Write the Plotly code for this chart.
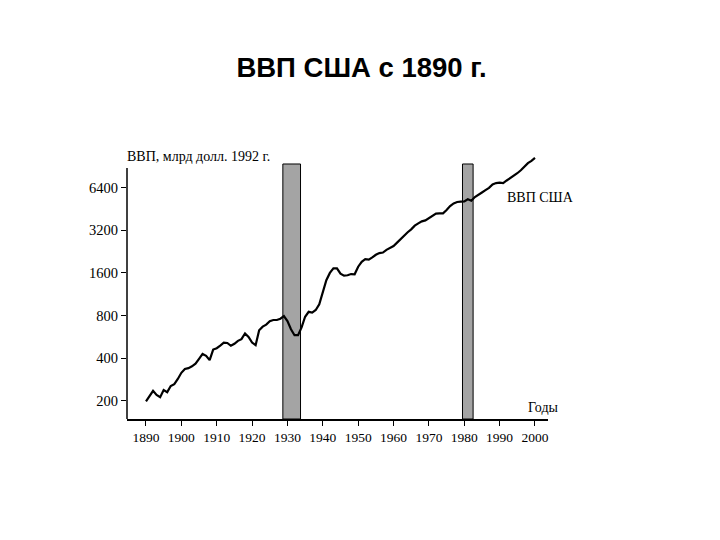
import plotly.graph_objects as go

years = list(range(1890, 2001))
gdp = [198, 215, 235, 220, 212, 238, 230, 254, 262, 285,
       315, 335, 340, 350, 365, 395, 428, 415, 387, 460,
       470, 490, 514, 512, 489, 505, 530, 545, 598, 565,
       515, 494, 630, 668, 690, 730, 744, 744, 760, 793,
       730, 640, 581, 581, 660, 784, 850, 840, 875, 960,
       1150, 1420, 1600, 1725, 1725, 1580, 1530, 1540, 1570, 1565,
       1770, 1919, 2001, 1985, 2060, 2150, 2210, 2230, 2330, 2420,
       2480, 2620, 2780, 2950, 3100, 3250, 3450, 3580, 3700, 3760,
       3920, 4080, 4200, 4210, 4220, 4450, 4750, 4960, 5070, 5110,
       5120, 5300, 5180, 5500, 5750, 5920, 6150, 6380, 6750, 6900,
       6950, 6900, 7200, 7480, 7750, 8100, 8500, 9000, 9550, 9900,
       10400]

shade_start = [1928.7, 1979.5]
shade_end = [1933.7, 1982.5]

ytick_vals = [200, 400, 800, 1600, 3200, 6400]
ytick_text = ["200", "400", "800", "1600", "3200", "6400"]
xtick_vals = list(range(1890, 2001, 10))

serif = "Liberation Serif, Times New Roman, serif"

fig = go.Figure()
fig.add_trace(go.Scatter(x=years, y=gdp, mode="lines",
                         line=dict(color="black", width=2.2), showlegend=False))

shapes = []
for s, e in zip(shade_start, shade_end):
    shapes.append(dict(type="rect", xref="x", yref="paper", x0=s, x1=e,
                       y0=0, y1=0.948, fillcolor="#a4a4a4",
                       line=dict(color="black", width=1), layer="below"))
shapes.append(dict(type="line", xref="paper", yref="paper", x0=0, x1=0,
                   y0=0, y1=0.933, line=dict(color="black", width=1.5)))

fig.update_layout(
    width=720, height=540,
    margin=dict(l=127, r=172, t=150, b=121),
    paper_bgcolor="white", plot_bgcolor="white",
    title=dict(text="<b>ВВП США с 1890 г.</b>", x=361.5 / 720, xanchor="center",
               y=1 - 67.5 / 540, yanchor="middle", xref="container", yref="container",
               font=dict(family="Liberation Sans, Arial, sans-serif", size=27.5, color="black")),
    shapes=shapes,
    annotations=[
        dict(text="ВВП, млрд долл. 1992 г.", xref="paper", yref="paper",
             x=-0.005, y=(419 - 156) / 269, xanchor="left", yanchor="middle",
             showarrow=False, font=dict(family=serif, size=14, color="black")),
        dict(text="ВВП США", xref="paper", yref="paper",
             x=(505 - 127) / 421, y=(419 - 197) / 269, xanchor="left", yanchor="middle",
             showarrow=False, font=dict(family=serif, size=14, color="black")),
        dict(text="Годы", xref="paper", yref="paper",
             x=(526 - 127) / 421, y=(419 - 407) / 269, xanchor="left", yanchor="middle",
             showarrow=False, font=dict(family=serif, size=14, color="black")),
    ],
)
fig.update_xaxes(range=[1884.63, 2003.68], tickvals=xtick_vals,
                 showline=True, linecolor="black", linewidth=1.5,
                 ticks="outside", ticklen=5, tickcolor="black",
                 showgrid=False, zeroline=False,
                 tickfont=dict(family=serif, size=13.5, color="black"))
fig.update_yaxes(type="log", range=[2.172, 4.0726], tickvals=ytick_vals, ticktext=ytick_text,
                 showline=False, ticks="outside", ticklen=5, tickcolor="black",
                 showgrid=False, zeroline=False,
                 tickfont=dict(family=serif, size=14.5, color="black"))

fig.write_html("out.html")
